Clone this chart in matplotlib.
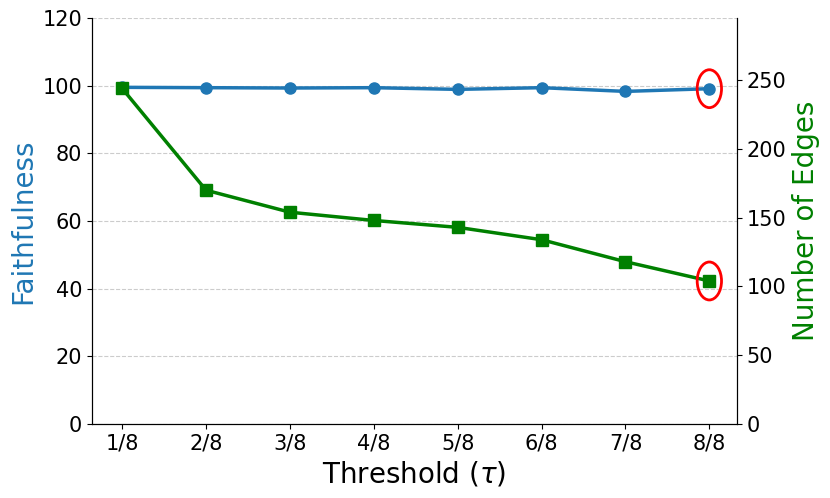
import matplotlib
matplotlib.use("Agg")
import matplotlib.pyplot as plt
from matplotlib.patches import Ellipse

thresholds = ["1/8", "2/8", "3/8", "4/8", "5/8", "6/8", "7/8", "8/8"]
faithfulness = [99.5, 99.4, 99.3, 99.4, 98.9, 99.4, 98.3, 99.1]
num_edges = [244, 170, 154, 148, 143, 134, 118, 104]

x = list(range(len(thresholds)))

fig = plt.figure(figsize=(8.3, 4.98), dpi=100)
ax = fig.add_axes([0.1108, 0.1486, 0.7772, 0.8153])
ax2 = ax.twinx()

ax.plot(x, faithfulness, color="#1f77b4", marker="o", markersize=8, linewidth=2.5)
ax2.plot(x, num_edges, color="green", marker="s", markersize=8, linewidth=2.5)

ax.set_xlim(-0.36, 7.33)
ax.set_ylim(0, 120)
ax2.set_ylim(0, max(num_edges) * 1.21)
ax2.set_yticks([0, 50, 100, 150, 200, 250])

ax.set_xticks(x)
ax.set_xticklabels(thresholds)
ax.tick_params(labelsize=15)
ax2.tick_params(labelsize=15)

ax.set_xlabel("Threshold ($\\tau$)", fontsize=20)
ax.set_ylabel("Faithfulness", fontsize=20, color="#1f77b4")
ax2.set_ylabel("Number of Edges", fontsize=20, color="green")

ax.grid(axis="y", linestyle="--", color="#cccccc", linewidth=0.8)
for a in (ax, ax2):
    a.spines["top"].set_visible(False)

# highlight last points
ax.add_patch(Ellipse((x[-1], faithfulness[-1]), 0.29, 11.2, fill=False,
                     edgecolor="red", linewidth=2, zorder=5))
ax2.add_patch(Ellipse((x[-1], num_edges[-1]), 0.29, 27.6, fill=False,
                      edgecolor="red", linewidth=2, zorder=5))

fig.savefig("out.png", dpi=100)
